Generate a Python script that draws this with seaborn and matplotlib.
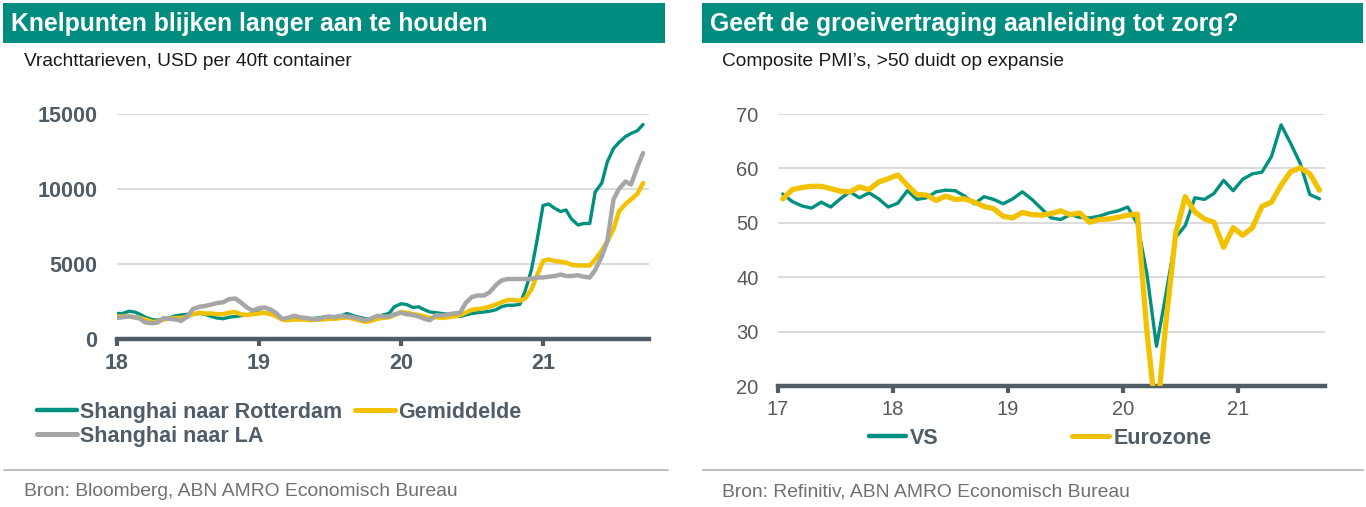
import numpy as np
import pandas as pd
import matplotlib
matplotlib.use("Agg")
import matplotlib.pyplot as plt
import seaborn as sns
from matplotlib.patches import Rectangle
from matplotlib.lines import Line2D

# ---------------- data ----------------
freight_dates = pd.date_range("2018-01-01", "2021-09-15", freq="SMS")
rotterdam = [1700,1700,1850,1800,1650,1450,1300,1250,1350,1400,1550,1600,1650,1650,1700,1650,1500,1400,1350,1450,1500,1550,1600,1700,
             1800,1750,1700,1550,1350,1350,1400,1450,1400,1350,1400,1450,1400,1500,1550,1700,1550,1450,1350,1300,1450,1600,1700,2150,
             2350,2300,2100,2150,1950,1800,1750,1700,1650,1550,1500,1600,1700,1750,1800,1850,1950,2150,2250,2250,2300,3200,4600,6500,
             8900,9000,8700,8500,8600,8000,7600,7700,7700,9800,10400,11800,12700,13100,13500,13700,13900,14300]
los_angeles = [1400,1450,1500,1450,1350,1100,1050,1100,1400,1350,1300,1200,1500,2000,2150,2200,2300,2400,2450,2650,2700,2450,2100,1900,
               2050,2100,1950,1700,1350,1400,1550,1450,1400,1350,1300,1450,1500,1450,1550,1500,1450,1350,1250,1350,1550,1500,1500,1650,
               1750,1650,1600,1500,1350,1250,1600,1550,1650,1700,1750,2400,2800,2900,2900,3100,3600,3900,4000,4000,4000,4000,4000,4100,
               4100,4150,4200,4300,4200,4200,4250,4150,4100,4600,5500,6500,9300,10000,10500,10300,11500,12400]
gemiddelde = [1500,1500,1500,1450,1400,1300,1150,1150,1300,1350,1400,1400,1500,1650,1750,1700,1700,1650,1650,1750,1800,1650,1600,1650,
              1700,1750,1650,1500,1300,1250,1300,1300,1300,1250,1300,1300,1350,1350,1400,1450,1350,1250,1150,1200,1350,1400,1450,1600,
              1800,1750,1650,1600,1500,1400,1450,1400,1450,1500,1600,1750,1950,2000,2050,2150,2300,2450,2600,2600,2550,2700,3300,4200,
              5200,5300,5200,5150,5100,4950,4900,4900,4900,5300,5900,6500,7300,8500,9000,9300,9700,10400]

pmi_dates = pd.date_range("2017-01-01", "2021-09-01", freq="MS")
pmi_vs = [55.3,53.9,53.1,52.7,53.8,52.9,54.4,55.7,54.6,55.5,54.4,52.9,
          53.6,55.9,54.3,54.6,55.7,56.0,55.9,54.9,53.5,54.8,54.3,53.5,
          54.4,55.7,54.3,52.6,50.9,50.6,51.5,51.0,50.9,51.2,51.8,52.2,
          52.9,49.8,40.6,27.3,37.0,47.3,49.5,54.6,54.3,55.4,57.8,55.9,
          58.0,59.0,59.3,62.2,68.0,64.6,60.9,55.2,54.4]
pmi_ez = [54.4,56.1,56.5,56.7,56.7,56.3,55.8,55.7,56.6,56.1,57.5,58.1,
          58.8,56.9,55.2,55.1,54.1,54.9,54.3,54.4,53.8,53.0,52.6,51.2,
          50.9,51.9,51.5,51.4,51.7,52.2,51.5,51.8,50.1,50.6,50.7,51.0,
          51.4,51.6,30.0,13.6,32.0,48.0,54.8,52.0,50.7,50.1,45.5,49.1,
          47.7,49.1,53.0,53.8,56.9,59.4,60.1,59.0,56.0]

left_yticks = [0, 5000, 10000, 15000]
right_yticks = [20, 30, 40, 50, 60, 70]
left_xticks = [18, 19, 20, 21]
right_xticks = [17, 18, 19, 20, 21]

# decimal (two-digit) years
fx = (freight_dates.year - 2000) + (freight_dates.dayofyear - 1) / 365.0
px = (pmi_dates.year - 2000) + (pmi_dates.month - 1) / 12.0 + 1 / 24.0

# ---------------- style ----------------
sns.set_theme(style="white")
plt.rcParams["font.family"] = ["Liberation Sans", "DejaVu Sans"]

W, H = 1366, 507
TEAL = "#00907f"
HDR = "#008c7e"
YEL = "#f2c200"
GRAY = "#a6a6a6"
DARK = "#505c66"
GRID = "#d9d9d9"

fig = plt.figure(figsize=(W / 100, H / 100), dpi=100)
fig.patch.set_facecolor("white")

def fx_(x): return x / W
def fy_(y): return 1 - y / H

# header bars + titles
for x0, x1, title in [(3, 665, "Knelpunten blijken langer aan te houden"),
                      (702, 1363, "Geeft de groeivertraging aanleiding tot zorg?")]:
    fig.add_artist(Rectangle((fx_(x0), fy_(43)), (x1 - x0) / W, 40 / H,
                             transform=fig.transFigure, color=HDR, lw=0))
    fig.text(fx_(x0 + 8), fy_(24), title, color="white", fontsize=17.8,
             fontweight="bold", va="center", ha="left")

fig.text(fx_(24), fy_(62), "Vrachttarieven, USD per 40ft container", fontsize=13.8,
         color="#1a1a1a", va="center")
fig.text(fx_(722), fy_(62), "Composite PMI\u2019s, >50 duidt op expansie", fontsize=13.8,
         color="#1a1a1a", va="center")

# separators and sources
for x0, x1 in [(4, 668), (703, 1363)]:
    fig.add_artist(Line2D([fx_(x0), fx_(x1)], [fy_(470), fy_(470)],
                          transform=fig.transFigure, color="#bfbfbf", lw=1.5))
fig.text(fx_(24), fy_(492), "Bron: Bloomberg, ABN AMRO Economisch Bureau",
         fontsize=13.9, color="#707070", va="center")
fig.text(fx_(722), fy_(492), "Bron: Refinitiv, ABN AMRO Economisch Bureau",
         fontsize=13.9, color="#707070", va="center")

# ---------------- left chart ----------------
ax1 = fig.add_axes([fx_(117), fy_(339), 532 / W, 225 / H])
sns.lineplot(x=fx, y=rotterdam, ax=ax1, color=TEAL, lw=2.4, zorder=3)
sns.lineplot(x=fx, y=gemiddelde, ax=ax1, color=YEL, lw=3.2, zorder=3)
sns.lineplot(x=fx, y=los_angeles, ax=ax1, color=GRAY, lw=3.2, zorder=3)
ax1.set_xlim(18, 21.746)
ax1.set_ylim(0, 15000)
ax1.set_yticks(left_yticks, [str(v) for v in left_yticks], fontweight="bold")
ax1.set_xticks(left_xticks, [str(v) for v in left_xticks], fontweight="bold")

# ---------------- right chart ----------------
ax2 = fig.add_axes([fx_(778), fy_(386), 547 / W, 272 / H])
sns.lineplot(x=px, y=pmi_vs, ax=ax2, color=TEAL, lw=2.4, zorder=3)
sns.lineplot(x=px, y=pmi_ez, ax=ax2, color=YEL, lw=3.8, zorder=3)
ax2.set_xlim(17, 21.757)
ax2.set_ylim(20, 70)
ax2.set_yticks(right_yticks, [str(v) for v in right_yticks])
ax2.set_xticks(right_xticks, [str(v) for v in right_xticks])

for ax, bold in [(ax1, True), (ax2, False)]:
    ax.set_facecolor("white")
    for s in ["top", "right", "left"]:
        ax.spines[s].set_visible(False)
    ax.spines["bottom"].set_color(DARK)
    ax.spines["bottom"].set_linewidth(3.2)
    ax.spines["bottom"].set_zorder(2.5)
    ax.yaxis.grid(True, color=GRID, lw=1.3)
    ax.xaxis.grid(False)
    ax.set_axisbelow(True)
    ax.set_xlabel("")
    ax.set_ylabel("")
    lc = DARK if bold else "#595959"
    fs = 15.5 if bold else 14.5
    ax.tick_params(axis="x", direction="out", length=5, width=3, color=DARK,
                   pad=5, labelsize=fs, labelcolor=lc, bottom=True)
    ax.tick_params(axis="y", length=0, pad=14, labelsize=fs, labelcolor=lc)

# legends
prop = {"weight": "bold", "size": 15.5}
h_rot = Line2D([], [], color=TEAL, lw=3.2)
h_avg = Line2D([], [], color=YEL, lw=3.6)
h_la = Line2D([], [], color=GRAY, lw=3.6)
fig.legend([h_rot, h_la, h_avg], ["Shanghai naar Rotterdam", "Shanghai naar LA", "Gemiddelde"],
           ncol=2, loc="upper left", bbox_to_anchor=(fx_(37), fy_(402)),
           bbox_transform=fig.transFigure, frameon=False, prop=prop, labelcolor=DARK,
           handlelength=1.85, handletextpad=0.15, columnspacing=0.6,
           labelspacing=0.14, borderpad=0, borderaxespad=0)
h_vs = Line2D([], [], color=TEAL, lw=3.2)
h_ez = Line2D([], [], color=YEL, lw=3.6)
fig.legend([h_vs, h_ez], ["VS", "Eurozone"], ncol=2, loc="upper left",
           bbox_to_anchor=(fx_(869), fy_(428)), bbox_transform=fig.transFigure,
           frameon=False, prop=prop, labelcolor=DARK, handlelength=1.72,
           handletextpad=0.2, columnspacing=6.2, borderpad=0, borderaxespad=0)

fig.savefig("out.png", dpi=100, facecolor="white")
